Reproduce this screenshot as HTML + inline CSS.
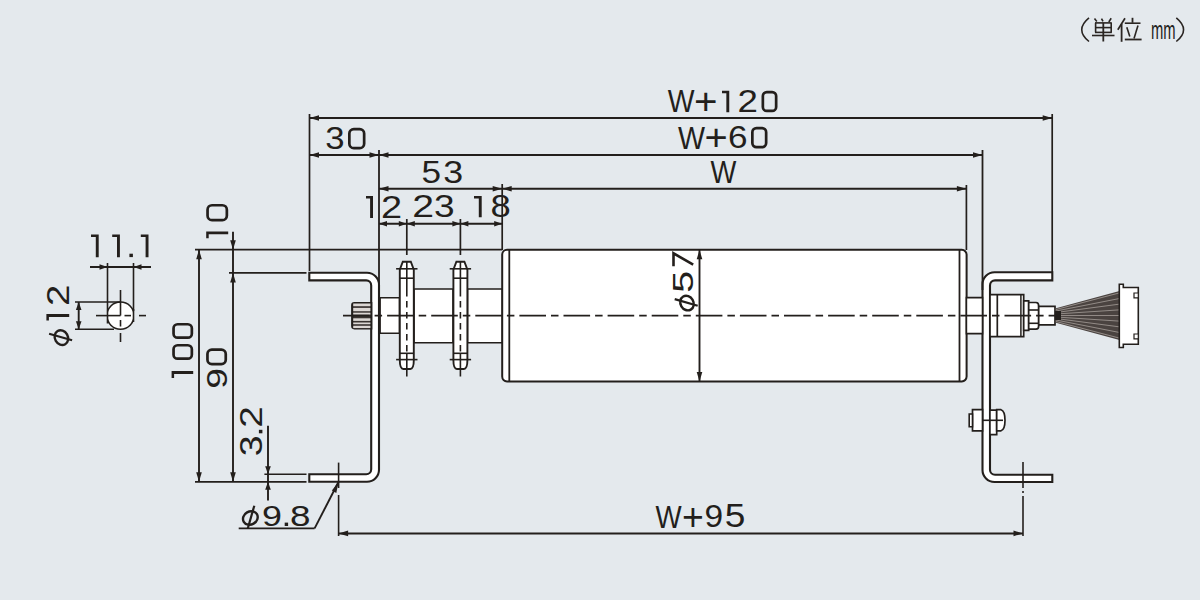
<!DOCTYPE html>
<html><head><meta charset="utf-8"><style>
html,body{margin:0;padding:0;background:#e4e9ed;}
svg{display:block;}
text{font-family:"Liberation Sans",sans-serif;fill:#231f1c;}
</style></head><body>
<svg width="1200" height="600" viewBox="0 0 1200 600">
<rect width="1200" height="600" fill="#e4e9ed"/>
<g stroke="#231f1c" fill="none" stroke-linecap="butt">
<path d="M309.3,272.8 H367.0 A12.0,12.0 0 0 1 379.0,284.8 V469.8 A12.0,12.0 0 0 1 367.0,481.8 H309.3 V474.3 H366.2 A5.0,5.0 0 0 0 371.2,469.3 V285.4 A5.0,5.0 0 0 0 366.2,280.4 H309.3 Z" stroke-width="2.1" fill="#fff" />
<path d="M1052.3,272.3 H994.5 A12.0,12.0 0 0 0 982.5,284.3 V470.0 A12.0,12.0 0 0 0 994.5,482.0 H1052.3 V474.7 H995.0 A5.0,5.0 0 0 1 990.0,469.7 V285.4 A5.0,5.0 0 0 1 995.0,280.4 H1052.3 Z" stroke-width="2.1" fill="#fff" />
<path d="M379,297.8 H399.5 V333.2 H379 Z" stroke-width="1.6" fill="#fff" />
<path d="M414,289 H453 V342.8 H414 Z" stroke-width="1.6" fill="#fff" />
<path d="M467.5,289 H502.5 V342.8 H467.5 Z" stroke-width="1.6" fill="#fff" />
<line x1="379.6" y1="297.5" x2="379.6" y2="333.5" stroke-width="2.6" />
<path d="M371.2,303.1 H354.4 Q352.2,303.1 352.2,305.3 V326.1 Q352.2,328.3 354.4,328.3 H371.2 Z" stroke-width="2.2" fill="#3a3431" />
<rect x="353.2" y="303.5" width="17.2" height="2.7" fill="#dcd7d4" stroke="none"/>
<rect x="353.2" y="307.9" width="17.2" height="3.3" fill="#dcd7d4" stroke="none"/>
<rect x="353.2" y="312.7" width="17.2" height="1.9" fill="#dcd7d4" stroke="none"/>
<rect x="353.2" y="318.3" width="17.2" height="2.6" fill="#dcd7d4" stroke="none"/>
<rect x="353.2" y="322.5" width="17.2" height="1.7" fill="#dcd7d4" stroke="none"/>
<rect x="353.2" y="325.8" width="17.2" height="2.3" fill="#dcd7d4" stroke="none"/>
<path d="M507,249.8 H961.8 A4.8,4.8 0 0 1 966.6,254.6 V376.6 A4.8,4.8 0 0 1 961.8,381.4 H507 A4.8,4.8 0 0 1 502.2,376.6 V254.6 A4.8,4.8 0 0 1 507,249.8 Z" stroke-width="2.0" fill="#fff" />
<line x1="509.3" y1="250" x2="509.3" y2="381.4" stroke-width="1.8" />
<line x1="959.5" y1="250" x2="959.5" y2="381.4" stroke-width="1.8" />
<path d="M402.8,261.7 H410.8 L413.8,269.7 V360.0 Q413.8,369.0 410.3,369.0 H403.3 Q399.8,369.0 399.8,360.0 V269.7 Z" stroke-width="1.9" fill="#fff" />
<line x1="399.8" y1="278.2" x2="413.8" y2="278.2" stroke-width="1.6" />
<line x1="399.8" y1="353.3" x2="413.8" y2="353.3" stroke-width="1.6" />
<line x1="396.1" y1="268.8" x2="417.5" y2="268.8" stroke-width="1.6" />
<line x1="396.1" y1="359.6" x2="417.5" y2="359.6" stroke-width="1.6" />
<line x1="406.8" y1="219" x2="406.8" y2="255" stroke-width="1.7" />
<line x1="406.8" y1="261" x2="406.8" y2="290" stroke-width="1.6" />
<line x1="406.8" y1="290" x2="406.8" y2="353" stroke-width="1.6" stroke-dasharray="6.5 4.5"/>
<line x1="406.8" y1="353" x2="406.8" y2="376.5" stroke-width="1.6" />
<path d="M456.4,261.7 H464.4 L467.4,269.7 V360.0 Q467.4,369.0 463.9,369.0 H456.9 Q453.4,369.0 453.4,360.0 V269.7 Z" stroke-width="1.9" fill="#fff" />
<line x1="453.4" y1="278.2" x2="467.4" y2="278.2" stroke-width="1.6" />
<line x1="453.4" y1="353.3" x2="467.4" y2="353.3" stroke-width="1.6" />
<line x1="449.7" y1="268.8" x2="471.09999999999997" y2="268.8" stroke-width="1.6" />
<line x1="449.7" y1="359.6" x2="471.09999999999997" y2="359.6" stroke-width="1.6" />
<line x1="460.4" y1="219" x2="460.4" y2="255" stroke-width="1.7" />
<line x1="460.4" y1="261" x2="460.4" y2="290" stroke-width="1.6" />
<line x1="460.4" y1="290" x2="460.4" y2="353" stroke-width="1.6" stroke-dasharray="6.5 4.5"/>
<line x1="460.4" y1="353" x2="460.4" y2="376.5" stroke-width="1.6" />
<path d="M966.4,297.6 H982.5 V333.6 H966.4 Z" stroke-width="1.6" fill="#fff" />
<path d="M990,294.7 H1023.7 V336.7 H990 Z" stroke-width="1.7" fill="#fff" />
<line x1="997.3" y1="294.7" x2="997.3" y2="336.7" stroke-width="1.7" />
<line x1="1020.9" y1="294.7" x2="1020.9" y2="336.7" stroke-width="1.5" />
<path d="M1023.7,300.8 H1028.7 V330.3 H1023.7 Z" stroke-width="1.7" fill="#fff" />
<path d="M1028.7,302.5 H1036 Q1038.7,302.5 1038.7,306 V325.7 Q1038.7,329.2 1036,329.2 H1028.7 Z" stroke-width="1.7" fill="#fff" />
<line x1="1028.7" y1="310" x2="1038.7" y2="310" stroke-width="1.6" />
<line x1="1028.7" y1="323.3" x2="1038.7" y2="323.3" stroke-width="1.6" />
<path d="M1038.7,306.3 H1055 V324.9 H1038.7 Z" stroke-width="1.7" fill="#fff" />
<path d="M1055,308.5 L1119.5,291 V340 L1055,322.5 Z" fill="#4a4340" stroke="none"/>
<line x1="1056" y1="309.5" x2="1119" y2="293.0" stroke="#a59d98" stroke-width="0.8"/>
<line x1="1056" y1="311.0" x2="1119" y2="298.6" stroke="#a59d98" stroke-width="0.8"/>
<line x1="1056" y1="312.5" x2="1119" y2="304.2" stroke="#a59d98" stroke-width="0.8"/>
<line x1="1056" y1="314.0" x2="1119" y2="309.9" stroke="#a59d98" stroke-width="0.8"/>
<line x1="1056" y1="315.5" x2="1119" y2="315.5" stroke="#a59d98" stroke-width="0.8"/>
<line x1="1056" y1="317.0" x2="1119" y2="321.1" stroke="#a59d98" stroke-width="0.8"/>
<line x1="1056" y1="318.5" x2="1119" y2="326.8" stroke="#a59d98" stroke-width="0.8"/>
<line x1="1056" y1="320.0" x2="1119" y2="332.4" stroke="#a59d98" stroke-width="0.8"/>
<line x1="1056" y1="321.5" x2="1119" y2="338.0" stroke="#a59d98" stroke-width="0.8"/>
<rect x="1055" y="311" width="6" height="9" fill="#231f1c" stroke="none"/>
<path d="M1119.3,284.2 H1123.3 V287.5 H1138.3 V344.2 H1123.3 V347.5 H1119.3 Z" stroke-width="1.6" fill="#fff" />
<path d="M1134,293 H1138.3 V297.8 H1134 Z" stroke-width="1.2" fill="#fff" />
<path d="M1134,334 H1138.3 V338.8 H1134 Z" stroke-width="1.2" fill="#fff" />
<path d="M972.5,409.7 H982.5 V430.8 H972.5 Z" stroke-width="1.7" fill="#fff" />
<path d="M969.2,414 H972.5 V426.7 H969.2 Z" stroke-width="1.6" fill="#fff" />
<path d="M989.9,410.2 H996.7 V434.7 H989.9 Z" stroke-width="1.7" fill="#fff" />
<path d="M996.7,409.7 H1001 Q1005,411 1005,420.2 Q1005,429.5 1001,430.8 H996.7 Z" stroke-width="1.7" fill="#fff" />
<line x1="982.5" y1="420.3" x2="1003" y2="420.3" stroke-width="1.6" />
<line x1="343" y1="315.6" x2="1058" y2="315.6" stroke-width="1.8" stroke-dasharray="26.6 5 7.5 5"/>
<line x1="309.5" y1="118" x2="1052.2" y2="118" stroke-width="1.9" />
<polygon points="309.50,118.00 319.00,115.20 319.00,120.80" stroke="none" fill="#231f1c"/>
<polygon points="1052.20,118.00 1042.70,115.20 1042.70,120.80" stroke="none" fill="#231f1c"/>
<line x1="309.5" y1="114" x2="309.5" y2="271" stroke-width="1.7" />
<line x1="1052.2" y1="114" x2="1052.2" y2="272" stroke-width="1.7" />
<line x1="309.5" y1="155" x2="982.5" y2="155" stroke-width="1.9" />
<polygon points="309.50,155.00 319.00,152.20 319.00,157.80" stroke="none" fill="#231f1c"/>
<polygon points="379.00,155.00 369.50,152.20 369.50,157.80" stroke="none" fill="#231f1c"/>
<polygon points="379.00,155.00 388.50,152.20 388.50,157.80" stroke="none" fill="#231f1c"/>
<polygon points="982.50,155.00 973.00,152.20 973.00,157.80" stroke="none" fill="#231f1c"/>
<line x1="379" y1="150" x2="379" y2="290" stroke-width="1.8" />
<line x1="982.5" y1="150" x2="982.5" y2="290" stroke-width="1.8" />
<line x1="379" y1="188.8" x2="966.4" y2="188.8" stroke-width="1.9" />
<polygon points="379.00,188.80 388.50,186.00 388.50,191.60" stroke="none" fill="#231f1c"/>
<polygon points="502.20,188.80 492.70,186.00 492.70,191.60" stroke="none" fill="#231f1c"/>
<polygon points="502.20,188.80 511.70,186.00 511.70,191.60" stroke="none" fill="#231f1c"/>
<polygon points="966.40,188.80 956.90,186.00 956.90,191.60" stroke="none" fill="#231f1c"/>
<line x1="502.2" y1="184" x2="502.2" y2="250" stroke-width="1.7" />
<line x1="966.4" y1="185" x2="966.4" y2="250" stroke-width="1.7" />
<line x1="379" y1="223.7" x2="502.2" y2="223.7" stroke-width="1.9" />
<polygon points="379.00,223.70 387.00,220.90 387.00,226.50" stroke="none" fill="#231f1c"/>
<polygon points="406.80,223.70 398.80,220.90 398.80,226.50" stroke="none" fill="#231f1c"/>
<polygon points="406.80,223.70 414.80,220.90 414.80,226.50" stroke="none" fill="#231f1c"/>
<polygon points="460.40,223.70 452.40,220.90 452.40,226.50" stroke="none" fill="#231f1c"/>
<polygon points="460.40,223.70 468.40,220.90 468.40,226.50" stroke="none" fill="#231f1c"/>
<polygon points="502.20,223.70 494.20,220.90 494.20,226.50" stroke="none" fill="#231f1c"/>
<line x1="195" y1="249.7" x2="502.2" y2="249.7" stroke-width="1.7" />
<line x1="229" y1="272.9" x2="306.5" y2="272.9" stroke-width="1.7" />
<line x1="195" y1="481.8" x2="306.5" y2="481.8" stroke-width="1.7" />
<line x1="264.4" y1="474.3" x2="306.5" y2="474.3" stroke-width="1.6" />
<line x1="199" y1="249.7" x2="199" y2="481.8" stroke-width="1.9" />
<polygon points="199.00,249.70 196.20,259.20 201.80,259.20" stroke="none" fill="#231f1c"/>
<polygon points="199.00,481.80 196.20,472.30 201.80,472.30" stroke="none" fill="#231f1c"/>
<line x1="233" y1="231.8" x2="233" y2="481.8" stroke-width="1.9" />
<polygon points="233.00,249.70 230.20,240.20 235.80,240.20" stroke="none" fill="#231f1c"/>
<polygon points="233.00,272.90 230.20,282.40 235.80,282.40" stroke="none" fill="#231f1c"/>
<polygon points="233.00,481.80 230.20,472.30 235.80,472.30" stroke="none" fill="#231f1c"/>
<line x1="268" y1="425.7" x2="268" y2="500.4" stroke-width="1.9" />
<polygon points="268.00,474.30 265.20,466.30 270.80,466.30" stroke="none" fill="#231f1c"/>
<polygon points="268.00,481.80 265.20,489.80 270.80,489.80" stroke="none" fill="#231f1c"/>
<line x1="238.7" y1="528.4" x2="314.6" y2="528.4" stroke-width="1.9" />
<line x1="314.6" y1="528.4" x2="338.6" y2="481.8" stroke-width="1.9" />
<polygon points="338.6,481.8 331.9,490.6 336.3,492.9" fill="#231f1c" stroke="none"/>
<line x1="338.6" y1="462.6" x2="338.6" y2="488" stroke-width="1.6" />
<line x1="338.6" y1="495" x2="338.6" y2="536" stroke-width="1.6" />
<line x1="338.6" y1="533.5" x2="1023" y2="533.5" stroke-width="1.9" />
<polygon points="338.60,533.40 348.10,530.60 348.10,536.20" stroke="none" fill="#231f1c"/>
<polygon points="1023.00,533.40 1013.50,530.60 1013.50,536.20" stroke="none" fill="#231f1c"/>
<line x1="1023" y1="462" x2="1023" y2="488" stroke-width="1.6" />
<line x1="1023" y1="491" x2="1023" y2="493" stroke-width="1.6" />
<line x1="1023" y1="496" x2="1023" y2="536" stroke-width="1.6" />
<line x1="699.5" y1="249.8" x2="699.5" y2="381.4" stroke-width="1.9" />
<polygon points="699.50,249.80 696.70,259.30 702.30,259.30" stroke="none" fill="#231f1c"/>
<polygon points="699.50,381.40 696.70,371.90 702.30,371.90" stroke="none" fill="#231f1c"/>
<clipPath id="cp"><rect x="107.5" y="290" width="26" height="50"/></clipPath>
<circle cx="120.5" cy="315.6" r="13.6" fill="#fff" stroke="none" clip-path="url(#cp)"/>
<circle cx="120.5" cy="315.6" r="13.6" fill="none" stroke-width="1.6" clip-path="url(#cp)"/>
<line x1="107.5" y1="308" x2="107.5" y2="323.5" stroke-width="1.6" />
<line x1="133.5" y1="309" x2="133.5" y2="322" stroke-width="1.6" />
<line x1="96" y1="315.6" x2="120.5" y2="315.6" stroke-width="1.6" />
<line x1="120.5" y1="290" x2="120.5" y2="315.6" stroke-width="1.6" />
<line x1="124.5" y1="315.6" x2="131" y2="315.6" stroke-width="1.6" />
<line x1="139" y1="315.6" x2="146" y2="315.6" stroke-width="1.6" />
<line x1="120.5" y1="320" x2="120.5" y2="326.5" stroke-width="1.6" />
<line x1="120.5" y1="333" x2="120.5" y2="342" stroke-width="1.6" />
<line x1="90" y1="267" x2="151" y2="267" stroke-width="1.9" />
<polygon points="107.50,267.00 99.50,264.20 99.50,269.80" stroke="none" fill="#231f1c"/>
<polygon points="133.50,267.00 141.50,264.20 141.50,269.80" stroke="none" fill="#231f1c"/>
<line x1="107.5" y1="263" x2="107.5" y2="308" stroke-width="1.6" />
<line x1="133.5" y1="263" x2="133.5" y2="311" stroke-width="1.6" />
<line x1="75" y1="302" x2="120.5" y2="302" stroke-width="1.6" />
<line x1="75" y1="329.2" x2="114" y2="329.2" stroke-width="1.6" />
<line x1="78.7" y1="302" x2="78.7" y2="329.2" stroke-width="1.9" />
<polygon points="78.70,302.00 75.90,310.00 81.50,310.00" stroke="none" fill="#231f1c"/>
<polygon points="78.70,329.20 75.90,321.20 81.50,321.20" stroke="none" fill="#231f1c"/>
</g>
<g>
<text transform="matrix(0.283612,0,0,0.312727,667.823,112.250)" font-size="100">W</text>
<text transform="matrix(0.402581,0,0,0.361783,693.987,113.916)" font-size="100">+</text>
<path d="M722,90.75 H729.25 V112.25 H726.35 V93.25 H722 Z" fill="#231f1c"/>
<text transform="matrix(0.367123,0,0,0.308520,737.414,112.250)" font-size="100">2</text>
<rect x="762.85" y="92.10" width="13.30" height="18.80" rx="3.99" fill="none" stroke="#231f1c" stroke-width="2.7"/>
<text transform="matrix(0.286288,0,0,0.316364,678.071,148.500)" font-size="100">W</text>
<text transform="matrix(0.397419,0,0,0.361783,704.513,149.916)" font-size="100">+</text>
<text transform="matrix(0.351351,0,0,0.307965,727.993,148.211)" font-size="100">6</text>
<rect x="752.35" y="128.10" width="13.80" height="19.05" rx="4.14" fill="none" stroke="#231f1c" stroke-width="2.7"/>
<text transform="matrix(0.277191,0,0,0.309818,655.427,528.000)" font-size="100">W</text>
<text transform="matrix(0.373677,0,0,0.381146,682.032,530.035)" font-size="100">+</text>
<text transform="matrix(0.335135,0,0,0.321416,704.429,527.399)" font-size="100">9</text>
<text transform="matrix(0.370526,0,0,0.325740,724.795,527.395)" font-size="100">5</text>
<text transform="matrix(0.347368,0,0,0.307257,325.197,149.212)" font-size="100">3</text>
<rect x="349.35" y="129.15" width="14.80" height="19.00" rx="4.44" fill="none" stroke="#231f1c" stroke-width="2.7"/>
<text transform="matrix(0.351579,0,0,0.309955,421.572,183.009)" font-size="100">5</text>
<text transform="matrix(0.357895,0,0,0.305841,443.358,183.013)" font-size="100">3</text>
<text transform="matrix(0.273980,0,0,0.309818,710.529,183.000)" font-size="100">W</text>
<path d="M366,196 H373 V218 H370.1 V198.5 H366 Z" fill="#231f1c"/>
<text transform="matrix(0.379178,0,0,0.320000,381.104,218.000)" font-size="100">2</text>
<text transform="matrix(0.392329,0,0,0.314260,412.138,217.200)" font-size="100">2</text>
<text transform="matrix(0.370526,0,0,0.310088,434.111,216.909)" font-size="100">3</text>
<path d="M474,195.9 H481.7 V217.2 H478.8 V198.4 H474 Z" fill="#231f1c"/>
<text transform="matrix(0.364800,0,0,0.310088,490.504,216.909)" font-size="100">8</text>
<path d="M91,234.4 H98.7 V257.2 H95.8 V236.9 H91 Z" fill="#231f1c"/>
<path d="M112.2,234.4 H119.9 V257.2 H117.0 V236.9 H112.2 Z" fill="#231f1c"/>
<rect x="129.4" y="253.7" width="3.5" height="3.4" fill="#231f1c"/>
<path d="M140.8,234.4 H148.5 V257.2 H145.6 V236.9 H140.8 Z" fill="#231f1c"/>
<text transform="matrix(0.358919,0,0,0.301593,262.018,525.717)" font-size="100">9</text>
<rect x="284.7" y="522.6" width="3.4" height="3.4" fill="#231f1c"/>
<text transform="matrix(0.369067,0,0,0.301593,290.085,525.717)" font-size="100">8</text>
<rect x="207.55" y="205.25" width="19.30" height="14.90" rx="4.47" fill="none" stroke="#231f1c" stroke-width="2.7"/>
<path d="M206.2,238.3 V231.4 H228.2 V234.3 H208.7 V238.3 Z" fill="#231f1c"/>
<rect x="173.55" y="324.25" width="18.30" height="13.40" rx="4.02" fill="none" stroke="#231f1c" stroke-width="2.7"/>
<rect x="173.55" y="345.25" width="18.30" height="13.40" rx="4.02" fill="none" stroke="#231f1c" stroke-width="2.7"/>
<path d="M171.6,377.9 V371 H193.2 V373.9 H174.1 V377.9 Z" fill="#231f1c"/>
<rect x="207.45" y="349.55" width="18.30" height="14.60" rx="4.38" fill="none" stroke="#231f1c" stroke-width="2.7"/>
<text transform="matrix(0,-0.371892,0.297345,0,226.821,388.843)" font-size="100">9</text>
<text transform="matrix(0,-0.387945,0.314260,0,262.000,427.840)" font-size="100">2</text>
<rect x="258.9" y="429.8" width="3.5" height="3.5" fill="#231f1c"/>
<text transform="matrix(0,-0.374737,0.310088,0,261.709,456.305)" font-size="100">3</text>
<text transform="matrix(0,-0.383562,0.318565,0,69.200,306.118)" font-size="100">2</text>
<path d="M46.4,320.5 V314.1 H69.2 V317.0 H48.9 V320.5 Z" fill="#231f1c"/>
<path d="M673.5,266.2 V253.3 L693.2,264.6" fill="none" stroke="#231f1c" stroke-width="2.6" stroke-linejoin="miter"/>
<text transform="matrix(0,-0.393684,0.301345,0,693.317,292.699)" font-size="100">5</text>
<text transform="matrix(0.147943,0,0,0.260465,1151.029,38.700)" font-size="100">mm</text>
<g transform="translate(241.7,526)"><ellipse cx="0" cy="0" rx="7.6" ry="6.5" transform="translate(8.65,-8) rotate(-30)" fill="none" stroke="#231f1c" stroke-width="2.4"/><line x1="12.6" y1="-20.3" x2="6" y2="2.7" stroke="#231f1c" stroke-width="2.2"/></g>
<g transform="translate(69.4,346.3) rotate(-90)"><ellipse cx="0" cy="0" rx="7.6" ry="6.5" transform="translate(8.65,-8) rotate(-30)" fill="none" stroke="#231f1c" stroke-width="2.4"/><line x1="12.6" y1="-20.3" x2="6" y2="2.7" stroke="#231f1c" stroke-width="2.2"/></g>
<g transform="translate(695,311.7) rotate(-90)"><ellipse cx="0" cy="0" rx="7.6" ry="6.5" transform="translate(8.65,-8) rotate(-30)" fill="none" stroke="#231f1c" stroke-width="2.4"/><line x1="12.6" y1="-20.3" x2="6" y2="2.7" stroke="#231f1c" stroke-width="2.2"/></g>
<path d="M1089,17.8 Q1074.5,29.6 1089,41.5" fill="none" stroke="#2a2522" stroke-width="1.6"/>
<path d="M1176.3,17.8 Q1190.8,29.6 1176.3,41.5" fill="none" stroke="#2a2522" stroke-width="1.6"/>
<line x1="1094.5" y1="18.6" x2="1096.8" y2="21.4" stroke="#2a2522" stroke-width="1.6"/>
<line x1="1101.5" y1="18.6" x2="1103" y2="21.4" stroke="#2a2522" stroke-width="1.6"/>
<line x1="1111.2" y1="18.2" x2="1108.8" y2="22" stroke="#2a2522" stroke-width="1.6"/>
<line x1="1095" y1="22.9" x2="1111.8" y2="22.9" stroke="#2a2522" stroke-width="1.6"/>
<line x1="1095" y1="27.6" x2="1111.8" y2="27.6" stroke="#2a2522" stroke-width="1.6"/>
<line x1="1095" y1="32.4" x2="1111.8" y2="32.4" stroke="#2a2522" stroke-width="1.6"/>
<line x1="1095.6" y1="22.9" x2="1095.6" y2="32.4" stroke="#2a2522" stroke-width="1.6"/>
<line x1="1111.2" y1="22.9" x2="1111.2" y2="32.4" stroke="#2a2522" stroke-width="1.6"/>
<line x1="1092" y1="35.5" x2="1114.5" y2="35.5" stroke="#2a2522" stroke-width="1.6"/>
<line x1="1103.3" y1="22.9" x2="1103.3" y2="41.5" stroke="#2a2522" stroke-width="1.8"/>
<line x1="1125" y1="18.2" x2="1117.8" y2="29.8" stroke="#2a2522" stroke-width="1.7"/>
<line x1="1121.6" y1="24" x2="1121.6" y2="41.8" stroke="#2a2522" stroke-width="1.8"/>
<line x1="1132.5" y1="17.8" x2="1132.5" y2="22.8" stroke="#2a2522" stroke-width="1.8"/>
<line x1="1124.8" y1="23.2" x2="1140.5" y2="23.2" stroke="#2a2522" stroke-width="1.6"/>
<line x1="1126.8" y1="27.2" x2="1129.8" y2="36.5" stroke="#2a2522" stroke-width="1.6"/>
<line x1="1138" y1="25.4" x2="1134" y2="38.5" stroke="#2a2522" stroke-width="1.6"/>
<line x1="1124.8" y1="39.5" x2="1141.6" y2="39.5" stroke="#2a2522" stroke-width="1.8"/>
</g>
</svg>
</body></html>
